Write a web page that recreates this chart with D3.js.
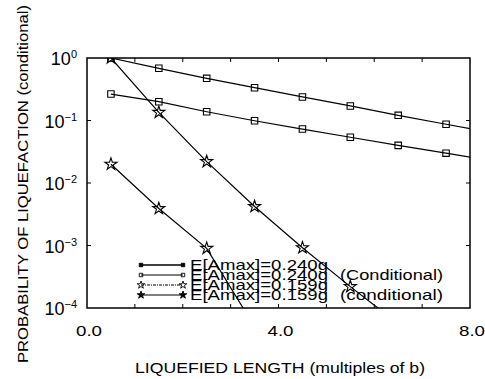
<!DOCTYPE html>
<html>
<head>
<meta charset="utf-8">
<script src="https://cdn.jsdelivr.net/npm/d3@7"></script>
<style>
  body { margin: 0; background: #fff; }
  svg { display: block; font-family: "Liberation Sans", Arial, sans-serif; }
</style>
</head>
<body>
<div id="chart"></div>
<script>
// liquefied length, multiples of b (last point falls outside the frame and is clipped)
const lengths = [0.5, 1.5, 2.5, 3.5, 4.5, 5.5, 6.5, 7.5, 8.5];
const p240cond = [1.0, 0.684, 0.473, 0.335, 0.238, 0.171, 0.121, 0.087, 0.063];
const p240 = [0.265, 0.200, 0.138, 0.099, 0.073, 0.054, 0.040, 0.030, 0.0224];
const p159cond = [1.0, 0.135, 0.022, 0.0042, 0.00092, 0.00022, 0.000056];
const p159 = [0.020, 0.0039, 0.0009, 0.00005];
const yTicks = [1, 0.1, 0.01, 0.001, 0.0001];
const yTickExp = ['0', '\u22121', '\u22122', '\u22123', '\u22124'];
const xTickLabels = [0, 4, 8];
const legendLabels = ['E[Amax]=0.240g', 'E[Amax]=0.240g', 'E[Amax]=0.159g', 'E[Amax]=0.159g'];
const legendNotes = ['', '(Conditional)', '', '(conditional)'];

const width = 485;
const height = 379;
const margin = { top: 58, right: 15, bottom: 71, left: 87 };

const svg = d3.select('#chart').append('svg').attr('width', width).attr('height', height);

const xScale = d3.scaleLinear().domain([0, 8]).range([margin.left, width - margin.right]);
const yScale = d3.scaleLog().domain([1e-4, 1]).range([height - margin.bottom, margin.top]);

svg.append('clipPath').attr('id', 'plot-clip')
  .append('rect')
  .attr('x', margin.left).attr('y', margin.top)
  .attr('width', width - margin.left - margin.right)
  .attr('height', height - margin.top - margin.bottom);

// ticks on all four sides, pointing inward
const tickLen = 4;
const xt = d3.range(1, 8);
const axes = svg.append('g').attr('stroke', '#000').attr('stroke-width', 1);
xt.forEach((t) => {
  axes.append('line').attr('x1', xScale(t)).attr('x2', xScale(t))
    .attr('y1', yScale(1e-4)).attr('y2', yScale(1e-4) - tickLen);
  axes.append('line').attr('x1', xScale(t)).attr('x2', xScale(t))
    .attr('y1', yScale(1)).attr('y2', yScale(1) + tickLen);
});
yTicks.slice(1, -1).forEach((t) => {
  axes.append('line').attr('x1', xScale(0)).attr('x2', xScale(0) + tickLen)
    .attr('y1', yScale(t)).attr('y2', yScale(t));
  axes.append('line').attr('x1', xScale(8)).attr('x2', xScale(8) - tickLen)
    .attr('y1', yScale(t)).attr('y2', yScale(t));
});

// y tick labels as 10^n
yTicks.forEach((t, i) => {
  const txt = svg.append('text')
    .attr('x', 77).attr('y', yScale(t) + 7)
    .attr('text-anchor', 'end')
    .style('font-size', '18px');
  txt.append('tspan').text('10');
  txt.append('tspan').attr('dy', -7).style('font-size', '11px').text(yTickExp[i]);
});

// x tick labels
xTickLabels.forEach((t) => {
  svg.append('text')
    .attr('x', xScale(t) - 11).attr('y', 336)
    .attr('textLength', 26)
    .attr('lengthAdjust', 'spacingAndGlyphs')
    .style('font-size', '15px')
    .text(t.toFixed(1));
});

// axis titles
svg.append('text')
  .attr('x', 135).attr('y', 373)
  .attr('textLength', 290)
  .attr('lengthAdjust', 'spacingAndGlyphs')
  .style('font-size', '14.5px')
  .text('LIQUEFIED LENGTH (multiples of b)');

svg.append('text')
  .attr('transform', 'translate(28,363) rotate(-90)')
  .attr('textLength', 358)
  .attr('lengthAdjust', 'spacingAndGlyphs')
  .style('font-size', '14.5px')
  .text('PROBABILITY OF LIQUEFACTION (conditional)');

// series
const series = [
  { values: p240cond, symbol: d3.symbolSquare, size: 42 },
  { values: p240, symbol: d3.symbolSquare, size: 42 },
  { values: p159cond, symbol: d3.symbolStar, size: 45 },
  { values: p159, symbol: d3.symbolStar, size: 45 },
];

const line = d3.line()
  .x((d) => xScale(d[0]))
  .y((d) => yScale(d[1]));

const plot = svg.append('g').attr('clip-path', 'url(#plot-clip)');

series.forEach((s) => {
  const pts = s.values.map((v, i) => [lengths[i], v]);
  plot.append('path')
    .attr('d', line(pts))
    .attr('fill', 'none')
    .attr('stroke', '#000')
    .attr('stroke-width', 1.2);
  plot.selectAll(null)
    .data(pts.filter((d) => d[0] <= 8 && d[1] >= 1e-4))
    .join('path')
    .attr('transform', (d) => `translate(${xScale(d[0])},${yScale(d[1])})`)
    .attr('d', d3.symbol(s.symbol, s.size)())
    .attr('fill', 'none')
    .attr('stroke', '#000')
    .attr('stroke-width', 1.1);
});

// frame
svg.append('rect')
  .attr('x', margin.left).attr('y', margin.top)
  .attr('width', width - margin.left - margin.right)
  .attr('height', height - margin.top - margin.bottom)
  .attr('fill', 'none')
  .attr('stroke', '#000')
  .attr('stroke-width', 1.5);

// legend
const legend = svg.append('g');
const legendSymbols = [
  { symbol: d3.symbolSquare, size: 12, fill: '#000', dash: null },
  { symbol: d3.symbolSquare, size: 12, fill: 'none', dash: null },
  { symbol: d3.symbolStar, size: 18, fill: 'none', dash: '3,1,1,1' },
  { symbol: d3.symbolStar, size: 18, fill: '#000', dash: null },
];
legendLabels.forEach((label, i) => {
  const yBase = 270 + i * 10;
  const ly = yBase - 5;
  const sym = legendSymbols[i];
  legend.append('line')
    .attr('x1', 141).attr('x2', 183)
    .attr('y1', ly).attr('y2', ly)
    .attr('stroke', '#000')
    .attr('stroke-width', i === 0 ? 1.6 : 1.1)
    .attr('stroke-dasharray', sym.dash);
  [141, 183].forEach((x) => {
    legend.append('path')
      .attr('transform', `translate(${x},${ly})`)
      .attr('d', d3.symbol(sym.symbol, sym.size)())
      .attr('fill', sym.fill)
      .attr('stroke', '#000')
      .attr('stroke-width', 0.9);
  });
  legend.append('text')
    .attr('x', 190).attr('y', yBase)
    .attr('textLength', 138)
    .attr('lengthAdjust', 'spacingAndGlyphs')
    .style('font-size', '15px')
    .text(label);
  if (legendNotes[i]) {
    legend.append('text')
      .attr('x', 340).attr('y', yBase)
      .attr('textLength', 103)
      .attr('lengthAdjust', 'spacingAndGlyphs')
      .style('font-size', '15px')
      .text(legendNotes[i]);
  }
});
</script>
</body>
</html>
